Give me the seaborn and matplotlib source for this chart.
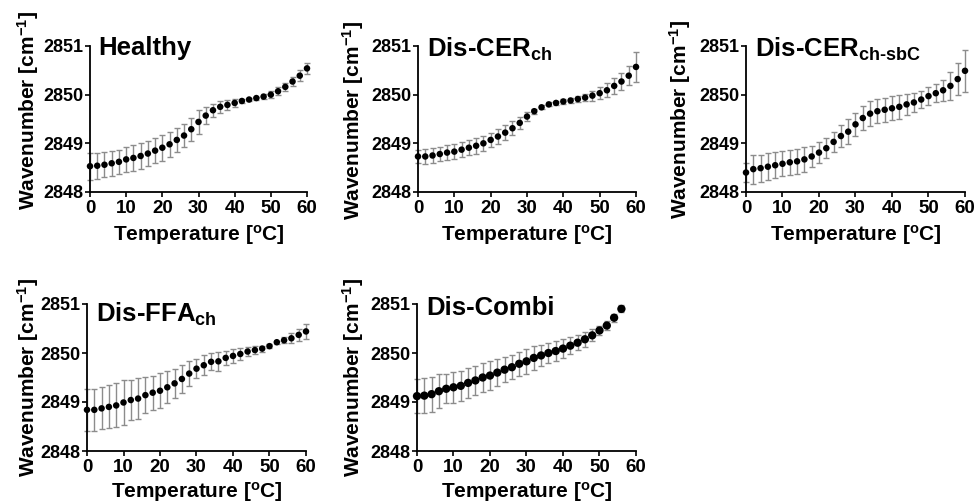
import numpy as np
import pandas as pd
import matplotlib
matplotlib.use("Agg")
import matplotlib.pyplot as plt
import seaborn as sns

# temperature grid (degC)
temp = list(range(0, 61, 2))
temp_combi = list(range(0, 57, 2))

healthy = [2848.53, 2848.54, 2848.56, 2848.59, 2848.62, 2848.67, 2848.70, 2848.74,
           2848.79, 2848.85, 2848.91, 2848.98, 2849.07, 2849.16, 2849.29, 2849.44,
           2849.57, 2849.68, 2849.75, 2849.79, 2849.83, 2849.87, 2849.90, 2849.93,
           2849.96, 2850.00, 2850.07, 2850.16, 2850.27, 2850.39, 2850.54]
healthy_err = [0.28, 0.27, 0.26, 0.26, 0.25, 0.25, 0.26, 0.26, 0.25, 0.26, 0.27,
               0.26, 0.25, 0.24, 0.24, 0.24, 0.18, 0.13, 0.12, 0.10, 0.08, 0.05,
               0.04, 0.03, 0.05, 0.07, 0.08, 0.09, 0.10, 0.11, 0.12]

cer_ch = [2848.73, 2848.73, 2848.75, 2848.78, 2848.81, 2848.83, 2848.87, 2848.91,
          2848.95, 2849.00, 2849.07, 2849.14, 2849.22, 2849.31, 2849.42, 2849.55,
          2849.66, 2849.74, 2849.80, 2849.83, 2849.86, 2849.88, 2849.91, 2849.94,
          2849.98, 2850.03, 2850.09, 2850.18, 2850.27, 2850.39, 2850.57]
cer_ch_err = [0.14, 0.15, 0.15, 0.15, 0.15, 0.15, 0.15, 0.15, 0.16, 0.16, 0.15,
              0.15, 0.15, 0.14, 0.12, 0.09, 0.05, 0.04, 0.04, 0.04, 0.05, 0.06,
              0.07, 0.08, 0.10, 0.12, 0.14, 0.16, 0.18, 0.20, 0.30]

cer_sbc = [2848.40, 2848.47, 2848.49, 2848.52, 2848.55, 2848.58, 2848.61, 2848.63,
           2848.67, 2848.73, 2848.81, 2848.90, 2849.03, 2849.15, 2849.24, 2849.39,
           2849.52, 2849.61, 2849.66, 2849.69, 2849.72, 2849.75, 2849.80, 2849.84,
           2849.90, 2849.97, 2850.03, 2850.09, 2850.18, 2850.32, 2850.49]
cer_sbc_err = [0.19, 0.30, 0.28, 0.28, 0.27, 0.26, 0.26, 0.26, 0.25, 0.22, 0.22,
               0.20, 0.20, 0.22, 0.25, 0.23, 0.25, 0.25, 0.25, 0.25, 0.25, 0.24,
               0.22, 0.20, 0.18, 0.18, 0.18, 0.22, 0.28, 0.33, 0.43]

ffa_ch = [2848.84, 2848.84, 2848.87, 2848.90, 2848.93, 2848.99, 2849.04, 2849.07,
          2849.14, 2849.19, 2849.23, 2849.30, 2849.38, 2849.47, 2849.58, 2849.68,
          2849.75, 2849.82, 2849.83, 2849.90, 2849.94, 2849.98, 2850.03, 2850.06,
          2850.09, 2850.14, 2850.22, 2850.26, 2850.30, 2850.37, 2850.44]
ffa_ch_err = [0.43, 0.43, 0.43, 0.44, 0.45, 0.45, 0.40, 0.42, 0.37, 0.35, 0.36,
              0.33, 0.30, 0.28, 0.25, 0.20, 0.20, 0.17, 0.20, 0.15, 0.15, 0.12,
              0.10, 0.08, 0.06, 0.04, 0.03, 0.06, 0.10, 0.12, 0.16]

combi = [2849.12, 2849.13, 2849.16, 2849.22, 2849.27, 2849.30, 2849.33, 2849.39,
         2849.44, 2849.50, 2849.54, 2849.60, 2849.66, 2849.71, 2849.78, 2849.83,
         2849.90, 2849.95, 2850.00, 2850.04, 2850.09, 2850.15, 2850.21, 2850.28,
         2850.36, 2850.46, 2850.56, 2850.72, 2850.90]
combi_err = [0.35, 0.35, 0.36, 0.35, 0.30, 0.32, 0.30, 0.30, 0.30, 0.30, 0.30,
             0.28, 0.25, 0.25, 0.25, 0.26, 0.25, 0.22, 0.20, 0.20, 0.20, 0.17,
             0.15, 0.15, 0.12, 0.10, 0.10, 0.08, 0.07]

titles = ["Healthy", r"Dis-CER$_{\mathregular{ch}}$",
          r"Dis-CER$_{\mathregular{ch\text{-}sbC}}$",
          r"Dis-FFA$_{\mathregular{ch}}$", "Dis-Combi"]

sns.set_theme(style="ticks")
plt.rcParams["font.family"] = ["Liberation Sans", "DejaVu Sans"]
plt.rcParams["font.weight"] = "bold"
plt.rcParams["mathtext.fontset"] = "custom"
plt.rcParams["mathtext.rm"] = "Liberation Sans:bold"
plt.rcParams["mathtext.it"] = "Liberation Sans:bold"
plt.rcParams["mathtext.bf"] = "Liberation Sans:bold"
for k in ["text.color", "axes.labelcolor", "xtick.color", "ytick.color",
          "xtick.labelcolor", "ytick.labelcolor"]:
    plt.rcParams[k] = "black"

W, H = 979, 503
fig = plt.figure(figsize=(W / 100, H / 100), dpi=100)

# axes boxes in pixels: x0, x1, y_top, y_bottom
boxes = [(90, 307, 46, 192), (418, 636, 46, 192), (746, 965, 46, 192),
         (87, 306, 304, 451), (417, 636, 304, 451)]
series = [(temp, healthy, healthy_err), (temp, cer_ch, cer_ch_err),
          (temp, cer_sbc, cer_sbc_err), (temp, ffa_ch, ffa_ch_err),
          (temp_combi, combi, combi_err)]
title_y = [0.935, 0.925, 0.925, 0.88, 0.925]
ylab_pos = [(-0.285, 0.56), (-0.30, 0.49), (-0.30, 0.5), (-0.27, 0.5), (-0.29, 0.5)]
xlab_y = [-0.215, -0.21, -0.21, -0.197, -0.197]
msizes = [22, 22, 22, 22, 36]

for i, ((x0, x1, yt, yb), (t, v, e)) in enumerate(zip(boxes, series)):
    ax = fig.add_axes([x0 / W, 1 - yb / H, (x1 - x0) / W, (yb - yt) / H])
    df = pd.DataFrame({"T": t, "wn": v, "err": e})
    ax.errorbar(df["T"], df["wn"], yerr=df["err"], fmt="none", ecolor="#8c8c8c",
                elinewidth=1.0, capsize=2.5, capthick=1.0, zorder=2, clip_on=False)
    sns.scatterplot(data=df, x="T", y="wn", ax=ax, color="black", s=msizes[i],
                    edgecolor="none", zorder=3, clip_on=False)
    ax.set_xlim(0, 60)
    ax.set_ylim(2848, 2851)
    ax.set_xticks(range(0, 61, 10))
    ax.set_yticks([2848, 2849, 2850, 2851])
    sns.despine(ax=ax)
    for s in ["left", "bottom"]:
        ax.spines[s].set_linewidth(1.3)
        ax.spines[s].set_color("black")
    ax.tick_params(axis="both", direction="out", length=3.5, width=1.2,
                   color="black", pad=2)
    ax.tick_params(axis="x", labelsize=13.5)
    ax.tick_params(axis="y", labelsize=13, pad=1)
    for lab in ax.get_xticklabels() + ax.get_yticklabels():
        lab.set_fontweight("bold")
    ax.set_xlabel(r"Temperature [$^{\mathregular{o}}$C]", fontsize=15,
                  fontweight="bold", va="top")
    ax.set_ylabel(r"Wavenumber [cm$^{\mathregular{-1}}$]", fontsize=15,
                  fontweight="bold", va="center")
    ax.xaxis.set_label_coords(0.5, xlab_y[i])
    ax.yaxis.set_label_coords(*ylab_pos[i])
    ax.text(0.04, title_y[i], titles[i], transform=ax.transAxes, fontsize=18.5,
            fontweight="bold", va="baseline", ha="left")

fig.savefig("out.png", dpi=100)
